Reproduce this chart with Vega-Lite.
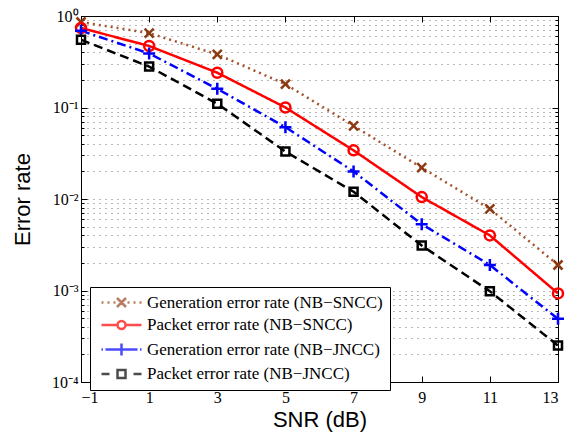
{
  "$schema": "https://vega.github.io/schema/vega-lite/v6.json",
  "width": 477,
  "height": 366,
  "autosize": {"type": "none"},
  "padding": {"left": 81, "top": 16, "right": 16, "bottom": 52},
  "background": "white",
  "view": {"stroke": "black", "strokeWidth": 1},
  "config": {
    "axis": {
      "labelFont": "Liberation Serif", "labelFontSize": 16, "labelColor": "black",
      "titleFont": "Liberation Sans", "titleFontSize": 22, "titleFontWeight": "normal", "titleColor": "black",
      "tickColor": "black", "domainColor": "black"
    },
    "legend": {
      "labelFont": "Liberation Serif", "labelFontSize": 17, "labelColor": "black", "labelLimit": 400
    }
  },
  "data": {
    "values": [
      {"snr": -1, "rate": 0.86, "series": "Generation error rate (NB−SNCC)", "marker": "Generation error rate (NB−SNCC)"},
      {"snr": 1, "rate": 0.65, "series": "Generation error rate (NB−SNCC)", "marker": "Generation error rate (NB−SNCC)"},
      {"snr": 3, "rate": 0.38, "series": "Generation error rate (NB−SNCC)", "marker": "Generation error rate (NB−SNCC)"},
      {"snr": 5, "rate": 0.18, "series": "Generation error rate (NB−SNCC)", "marker": "Generation error rate (NB−SNCC)"},
      {"snr": 7, "rate": 0.063, "series": "Generation error rate (NB−SNCC)", "marker": "Generation error rate (NB−SNCC)"},
      {"snr": 9, "rate": 0.022, "series": "Generation error rate (NB−SNCC)", "marker": "Generation error rate (NB−SNCC)"},
      {"snr": 11, "rate": 0.0078, "series": "Generation error rate (NB−SNCC)", "marker": "Generation error rate (NB−SNCC)"},
      {"snr": 13, "rate": 0.0019, "series": "Generation error rate (NB−SNCC)", "marker": "Generation error rate (NB−SNCC)"},
      {"snr": -1, "rate": 0.74, "series": "Packet error rate (NB−SNCC)", "marker": "Packet error rate (NB−SNCC)"},
      {"snr": 1, "rate": 0.47, "series": "Packet error rate (NB−SNCC)", "marker": "Packet error rate (NB−SNCC)"},
      {"snr": 3, "rate": 0.24, "series": "Packet error rate (NB−SNCC)", "marker": "Packet error rate (NB−SNCC)"},
      {"snr": 5, "rate": 0.10, "series": "Packet error rate (NB−SNCC)", "marker": "Packet error rate (NB−SNCC)"},
      {"snr": 7, "rate": 0.034, "series": "Packet error rate (NB−SNCC)", "marker": "Packet error rate (NB−SNCC)"},
      {"snr": 9, "rate": 0.0105, "series": "Packet error rate (NB−SNCC)", "marker": "Packet error rate (NB−SNCC)"},
      {"snr": 11, "rate": 0.0040, "series": "Packet error rate (NB−SNCC)", "marker": "Packet error rate (NB−SNCC)"},
      {"snr": 13, "rate": 0.00093, "series": "Packet error rate (NB−SNCC)", "marker": "Packet error rate (NB−SNCC)"},
      {"snr": -1, "rate": 0.69, "series": "Generation error rate (NB−JNCC)", "marker": "Generation error rate (NB−JNCC)"},
      {"snr": 1, "rate": 0.39, "series": "Generation error rate (NB−JNCC)", "marker": "Generation error rate (NB−JNCC)"},
      {"snr": 3, "rate": 0.16, "series": "Generation error rate (NB−JNCC)", "marker": "Generation error rate (NB−JNCC)"},
      {"snr": 5, "rate": 0.061, "series": "Generation error rate (NB−JNCC)", "marker": "Generation error rate (NB−JNCC)"},
      {"snr": 7, "rate": 0.020, "series": "Generation error rate (NB−JNCC)", "marker": "Generation error rate (NB−JNCC)"},
      {"snr": 9, "rate": 0.0053, "series": "Generation error rate (NB−JNCC)", "marker": "Generation error rate (NB−JNCC)"},
      {"snr": 11, "rate": 0.0019, "series": "Generation error rate (NB−JNCC)", "marker": "Generation error rate (NB−JNCC)"},
      {"snr": 13, "rate": 0.00049, "series": "Generation error rate (NB−JNCC)", "marker": "Generation error rate (NB−JNCC)"},
      {"snr": -1, "rate": 0.55, "series": "Packet error rate (NB−JNCC)", "marker": "Packet error rate (NB−JNCC)"},
      {"snr": 1, "rate": 0.28, "series": "Packet error rate (NB−JNCC)", "marker": "Packet error rate (NB−JNCC)"},
      {"snr": 3, "rate": 0.11, "series": "Packet error rate (NB−JNCC)", "marker": "Packet error rate (NB−JNCC)"},
      {"snr": 5, "rate": 0.033, "series": "Packet error rate (NB−JNCC)", "marker": "Packet error rate (NB−JNCC)"},
      {"snr": 7, "rate": 0.012, "series": "Packet error rate (NB−JNCC)", "marker": "Packet error rate (NB−JNCC)"},
      {"snr": 9, "rate": 0.0031, "series": "Packet error rate (NB−JNCC)", "marker": "Packet error rate (NB−JNCC)"},
      {"snr": 11, "rate": 0.00098, "series": "Packet error rate (NB−JNCC)", "marker": "Packet error rate (NB−JNCC)"},
      {"snr": 13, "rate": 0.00025, "series": "Packet error rate (NB−JNCC)", "marker": "Packet error rate (NB−JNCC)"}
    ]
  },
  "layer": [
    {
      "mark": {"type": "line", "strokeWidth": 2.5, "clip": true},
      "encoding": {
        "x": {
          "field": "snr", "type": "quantitative",
          "scale": {"domain": [-1, 13], "nice": false, "zero": false},
          "axis": {
            "title": "SNR (dB)", "values": [-1, 1, 3, 5, 7, 9, 11, 13],
            "labelExpr": "datum.value < 0 ? '−' + (-datum.value) : datum.label",
            "grid": false, "tickSize": -6, "labelPadding": 13, "titlePadding": 4
          }
        },
        "y": {
          "field": "rate", "type": "quantitative",
          "scale": {"type": "log", "domain": [0.0001, 1], "nice": false},
          "axis": {
            "title": "Error rate",
            "values": [0.0001, 0.0002, 0.0003, 0.0004, 0.0005, 0.0006, 0.0007, 0.0008, 0.0009, 0.001, 0.002, 0.003, 0.004, 0.005, 0.006, 0.007, 0.008, 0.009, 0.01, 0.02, 0.03, 0.04, 0.05, 0.06, 0.07, 0.08, 0.09, 0.1, 0.2, 0.3, 0.4, 0.5, 0.6, 0.7, 0.8, 0.9, 1],
            "labelExpr": "abs(log(datum.value)/LN10 - round(log(datum.value)/LN10)) < 0.001 ? '10' + ['⁻⁴','⁻³','⁻²','⁻¹','⁰'][round(log(datum.value)/LN10) + 4] : ''",
            "grid": true, "gridDash": [1, 5], "gridColor": "black", "gridOpacity": 0.55, "gridWidth": 1,
            "tickSize": {"condition": {"test": "abs(log(datum.value)/LN10 - round(log(datum.value)/LN10)) < 0.001", "value": -6}, "value": -3},
            "labelPadding": 9, "labelOverlap": false, "titlePadding": 17
          }
        },
        "color": {
          "field": "series", "type": "nominal",
          "scale": {
            "domain": ["Generation error rate (NB−SNCC)", "Packet error rate (NB−SNCC)", "Generation error rate (NB−JNCC)", "Packet error rate (NB−JNCC)"],
            "range": ["#a4532a", "#ff0000", "#0000ff", "#000000"]
          },
          "legend": null
        },
        "strokeDash": {
          "field": "series", "type": "nominal",
          "scale": {
            "domain": ["Generation error rate (NB−SNCC)", "Packet error rate (NB−SNCC)", "Generation error rate (NB−JNCC)", "Packet error rate (NB−JNCC)"],
            "range": [[2, 4], [1, 0], [9, 4, 2, 4], [9, 5]]
          },
          "legend": null
        }
      }
    },
    {
      "mark": {"type": "point", "filled": false, "strokeWidth": 2.5, "size": 100, "opacity": 1},
      "encoding": {
        "x": {"field": "snr", "type": "quantitative", "axis": null},
        "y": {"field": "rate", "type": "quantitative", "axis": null},
        "stroke": {
          "field": "marker", "type": "nominal", "sort": null,
          "scale": {"range": ["#8b3a12", "#ff0000", "#0000ff", "#000000"]},
          "legend": null
        },
        "shape": {
          "field": "marker", "type": "nominal", "sort": null,
          "scale": {"range": ["M-0.9,-0.9L0.9,0.9M-0.9,0.9L0.9,-0.9", "circle", "M-1.2,0L1.2,0M0,-1.2L0,1.2", "M-0.8,-0.8H0.8V0.8H-0.8Z"]},
          "legend": null
        }
      }
    },
    {
      "transform": [{"filter": "false"}],
      "mark": {"type": "point", "filled": false, "strokeWidth": 2.5, "size": 100},
      "encoding": {
        "stroke": {
          "field": "series", "type": "nominal",
          "scale": {
            "domain": ["Generation error rate (NB−SNCC)", "Packet error rate (NB−SNCC)", "Generation error rate (NB−JNCC)", "Packet error rate (NB−JNCC)"],
            "range": ["#9a4820", "#ff0000", "#0000ff", "#000000"]
          },
          "legend": {
            "title": null, "orient": "none", "legendX": 9, "legendY": 271,
            "symbolSize": 100, "symbolStrokeWidth": 2.5, "symbolOffset": 16, "symbolFillColor": "transparent",
            "labelOffset": 17, "rowPadding": 3.5, "padding": 7,
            "strokeColor": "black", "fillColor": "white", "cornerRadius": 0
          }
        },
        "shape": {
          "field": "series", "type": "nominal",
          "scale": {
            "domain": ["Generation error rate (NB−SNCC)", "Packet error rate (NB−SNCC)", "Generation error rate (NB−JNCC)", "Packet error rate (NB−JNCC)"],
            "range": [
              "M-4,0h0.4M-2.8,0h0.4M-1.6,0h0.4M1.2,0h0.4M2.4,0h0.4M3.6,0h0.4M-0.9,-0.9L0.9,0.9M-0.9,0.9L0.9,-0.9",
              "M-4,0H-0.8M0.8,0H4M0.8,0A0.8,0.8,0,1,1,-0.8,0A0.8,0.8,0,1,1,0.8,0",
              "M-4,0H-3.7M-3.2,0H-1.2M1.2,0H3.2M3.7,0H4M-1.2,0L1.2,0M0,-1.2L0,1.2",
              "M-4,0H-2.4M2.4,0H4M-0.8,-0.8H0.8V0.8H-0.8Z"
            ]
          },
          "legend": {
            "title": null, "orient": "none", "legendX": 9, "legendY": 271,
            "symbolSize": 100, "symbolStrokeWidth": 2.5, "symbolOffset": 16, "symbolFillColor": "transparent",
            "labelOffset": 17, "rowPadding": 3.5, "padding": 7,
            "strokeColor": "black", "fillColor": "white", "cornerRadius": 0
          }
        }
      }
    },
    {
      "mark": {"type": "point", "opacity": 0},
      "encoding": {
        "x": {
          "field": "snr", "type": "quantitative",
          "axis": {"orient": "top", "title": null, "labels": false, "grid": false, "values": [-1, 1, 3, 5, 7, 9, 11, 13], "tickSize": -6}
        },
        "y": {
          "field": "rate", "type": "quantitative",
          "axis": {
            "orient": "right", "title": null, "labels": false, "grid": false,
            "values": [0.0001, 0.0002, 0.0003, 0.0004, 0.0005, 0.0006, 0.0007, 0.0008, 0.0009, 0.001, 0.002, 0.003, 0.004, 0.005, 0.006, 0.007, 0.008, 0.009, 0.01, 0.02, 0.03, 0.04, 0.05, 0.06, 0.07, 0.08, 0.09, 0.1, 0.2, 0.3, 0.4, 0.5, 0.6, 0.7, 0.8, 0.9, 1],
            "tickSize": {"condition": {"test": "abs(log(datum.value)/LN10 - round(log(datum.value)/LN10)) < 0.001", "value": -6}, "value": -3}
          }
        }
      }
    }
  ],
  "resolve": {
    "axis": {"x": "independent", "y": "independent"},
    "scale": {"shape": "independent", "stroke": "independent"}
  }
}
